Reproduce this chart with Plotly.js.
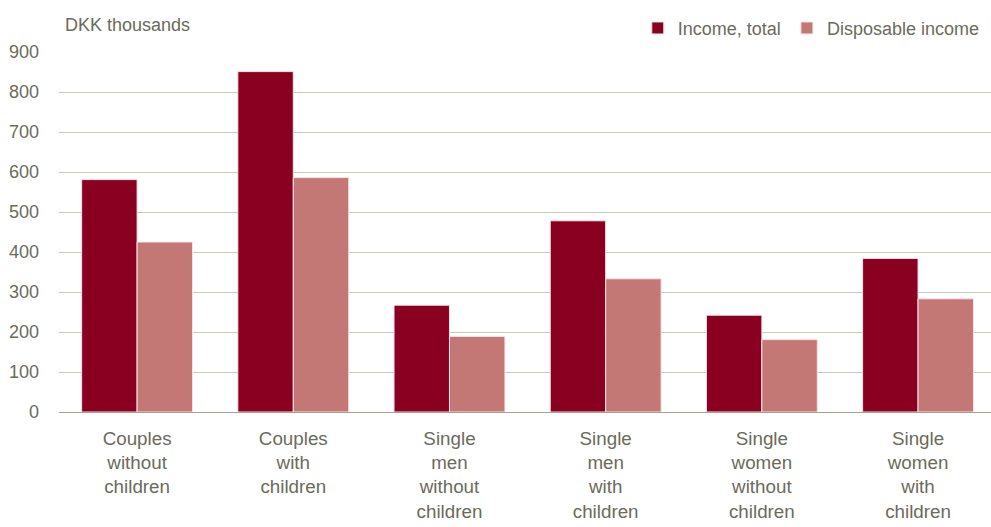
<!DOCTYPE html>
<html>
<head>
<meta charset="utf-8">
<script src="https://cdn.plot.ly/plotly-3.0.1.min.js"></script>
<style>html,body{margin:0;padding:0;background:#fff;}#chart{width:991px;height:527px;}</style>
</head>
<body>
<div id="chart"></div>
<script>
var categories = [
  "Couples<br>without<br>children",
  "Couples<br>with<br>children",
  "Single<br>men<br>without<br>children",
  "Single<br>men<br>with<br>children",
  "Single<br>women<br>without<br>children",
  "Single<br>women<br>with<br>children"
];
var incomeTotal = [581, 851, 267, 478, 242, 384];
var disposableIncome = [425, 586, 189, 333, 181, 283];
var yTicks = [0, 100, 200, 300, 400, 500, 600, 700, 800, 900];

var textColor = "#6b6b5b";
var fontFamily = "'Liberation Sans', Arial, sans-serif";

var traces = [
  {
    type: "bar",
    name: "Income, total",
    x: categories,
    y: incomeTotal,
    legend: "legend",
    marker: {color: "#8a0020", line: {color: "#f4e4e6", width: 1}}
  },
  {
    type: "bar",
    name: "Disposable income",
    x: categories,
    y: disposableIncome,
    legend: "legend2",
    marker: {color: "#c47876", line: {color: "#f4e4e6", width: 1}}
  }
];

function legendAt(x) {
  return {
    orientation: "h",
    x: x,
    xanchor: "left",
    y: 1.066,
    yanchor: "middle",
    itemwidth: 30,
    font: {family: fontFamily, size: 18, color: textColor},
    bgcolor: "rgba(0,0,0,0)"
  };
}

var layout = {
  width: 991,
  height: 527,
  margin: {l: 59, r: 0, t: 52, b: 115, autoexpand: false},
  paper_bgcolor: "#ffffff",
  plot_bgcolor: "#ffffff",
  font: {family: fontFamily, size: 18, color: textColor},
  barmode: "group",
  bargap: 0.29,
  bargroupgap: 0.0,
  showlegend: true,
  legend: legendAt(0.621),
  legend2: legendAt(0.781),
  xaxis: {
    type: "category",
    range: [-0.5, 5.467],
    showgrid: false,
    zeroline: false,
    showline: true,
    linecolor: "#a4a48e",
    linewidth: 1,
    ticks: "",
    ticklabelstandoff: 9,
    tickfont: {family: fontFamily, size: 18.8, color: textColor},
    fixedrange: true
  },
  yaxis: {
    range: [0, 900],
    tickvals: yTicks,
    ticktext: yTicks.map(String),
    showgrid: true,
    gridcolor: "#c9c9b9",
    gridwidth: 1,
    zeroline: false,
    showline: false,
    ticks: "",
    ticklabelstandoff: 19,
    tickfont: {family: fontFamily, size: 18, color: textColor},
    fixedrange: true
  },
  annotations: [
    {
      text: "DKK thousands",
      xref: "paper", yref: "paper",
      x: 0.004, y: 1.076,
      xanchor: "left", yanchor: "middle",
      showarrow: false,
      font: {family: fontFamily, size: 18, color: textColor}
    }
  ]
};

Plotly.newPlot("chart", traces, layout, {displayModeBar: false, staticPlot: true});
</script>
</body>
</html>
